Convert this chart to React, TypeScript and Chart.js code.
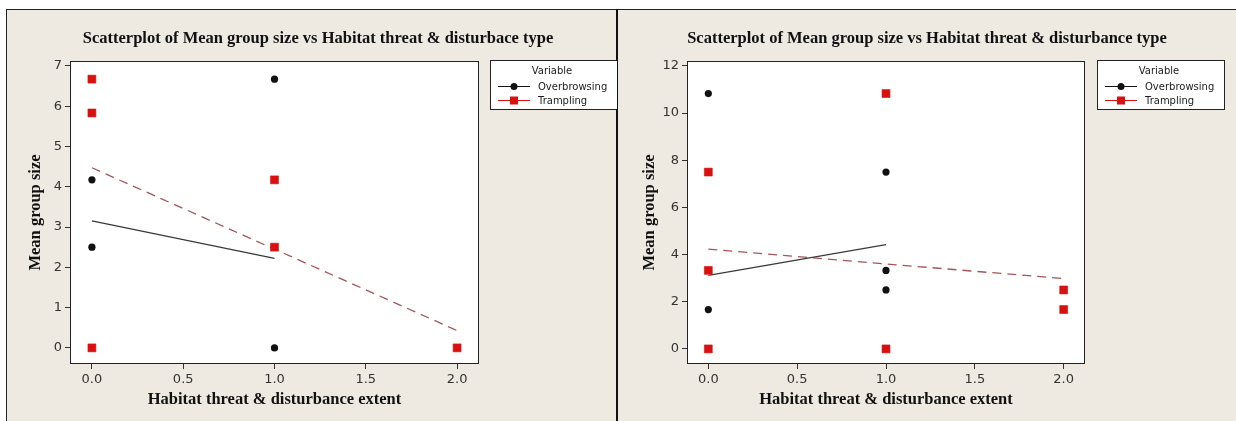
import React, { useEffect, useRef } from 'react';
import { Chart, registerables } from 'chart.js';

Chart.register(...registerables);

// ---- data ----
const xTicks = [0, 0.5, 1, 1.5, 2];
const leftYTicks = [0, 1, 2, 3, 4, 5, 6, 7];
const rightYTicks = [0, 2, 4, 6, 8, 10, 12];

const leftOverbrowsing = [
  { x: 0, y: 4.17 }, { x: 0, y: 2.5 }, { x: 1, y: 6.67 }, { x: 1, y: 0 },
];
const leftTrampling = [
  { x: 0, y: 6.67 }, { x: 0, y: 5.83 }, { x: 0, y: 0 },
  { x: 1, y: 4.17 }, { x: 1, y: 2.5 }, { x: 2, y: 0 },
];
const leftOverbrowsingFit = [{ x: 0, y: 3.15 }, { x: 1, y: 2.22 }];
const leftTramplingFit = [{ x: 0, y: 4.47 }, { x: 2, y: 0.43 }];

const rightOverbrowsing = [
  { x: 0, y: 10.83 }, { x: 0, y: 1.67 }, { x: 1, y: 7.5 }, { x: 1, y: 3.33 }, { x: 1, y: 2.5 },
];
const rightTrampling = [
  { x: 0, y: 7.5 }, { x: 0, y: 3.33 }, { x: 0, y: 0 },
  { x: 1, y: 10.83 }, { x: 1, y: 0 }, { x: 2, y: 2.5 }, { x: 2, y: 1.67 },
];
const rightOverbrowsingFit = [{ x: 0, y: 3.12 }, { x: 1, y: 4.42 }];
const rightTramplingFit = [{ x: 0, y: 4.23 }, { x: 2, y: 2.98 }];

const seriesNames = ['Overbrowsing', 'Trampling'];
const leftTitle = 'Scatterplot of Mean group size vs Habitat threat & disturbace type';
const rightTitle = 'Scatterplot of Mean group size vs Habitat threat & disturbance type';
const xTitle = 'Habitat threat & disturbance extent';
const yTitle = 'Mean group size';

// ---- styles ----
const RED = '#D8100F';
const BLACK = '#111111';
const FIT_BLACK = '#3a3a3a';
const FIT_RED = '#A4545C';
const BEIGE = '#EEEAE1';
const SERIF = '"Liberation Serif", "Times New Roman", serif';
const SANS = '"DejaVu Sans", sans-serif';

type PanelCfg = {
  left: number;
  width: number;
  plotRight: number;
  yMin: number;
  yMax: number;
  yTicks: number[];
  yTitlePad: number;
  title: string;
  titleX: number;
  legendX: number;
  legendW: number;
  over: { x: number; y: number }[];
  tramp: { x: number; y: number }[];
  overFit: { x: number; y: number }[];
  trampFit: { x: number; y: number }[];
};

function decorPlugin(cfg: PanelCfg) {
  return {
    id: 'decor',
    beforeDraw(chart: any) {
      const { ctx, chartArea: a } = chart;
      ctx.save();
      ctx.fillStyle = '#ffffff';
      ctx.fillRect(a.left, a.top, a.right - a.left, a.bottom - a.top);
      ctx.restore();
    },
    afterDraw(chart: any) {
      const { ctx, chartArea: a } = chart;
      ctx.save();
      // plot frame
      ctx.strokeStyle = '#222';
      ctx.lineWidth = 1;
      ctx.strokeRect(a.left + 0.5, a.top + 0.5, a.right - a.left - 1, a.bottom - a.top - 1);

      // title
      ctx.fillStyle = '#111';
      ctx.font = `bold 16.5px ${SERIF}`;
      ctx.textAlign = 'center';
      ctx.textBaseline = 'middle';
      ctx.fillText(cfg.title, cfg.titleX, 39);

      // legend
      const lx = cfg.legendX;
      const ly = 60;
      ctx.fillStyle = '#ffffff';
      ctx.fillRect(lx, ly, cfg.legendW, 49);
      ctx.strokeStyle = '#222';
      ctx.strokeRect(lx + 0.5, ly + 0.5, cfg.legendW - 1, 49);
      ctx.font = `10px ${SANS}`;
      ctx.fillStyle = '#222';
      ctx.textAlign = 'center';
      ctx.fillText('Variable', lx + 62, 71);
      ctx.textAlign = 'left';
      const rows = [
        { name: seriesNames[0], y: 86, color: BLACK, shape: 'circle' },
        { name: seriesNames[1], y: 100, color: RED, shape: 'rect' },
      ];
      rows.forEach((r) => {
        ctx.strokeStyle = r.color;
        ctx.lineWidth = 1;
        ctx.beginPath();
        ctx.moveTo(lx + 8, r.y + 0.5);
        ctx.lineTo(lx + 40, r.y + 0.5);
        ctx.stroke();
        ctx.fillStyle = r.color;
        if (r.shape === 'circle') {
          ctx.beginPath();
          ctx.arc(lx + 24, r.y + 0.5, 3.5, 0, Math.PI * 2);
          ctx.fill();
        } else {
          ctx.fillRect(lx + 20, r.y - 3.5, 8, 8);
        }
        ctx.fillStyle = '#222';
        ctx.fillText(r.name, lx + 48, r.y + 1);
      });
      ctx.restore();
    },
  };
}

function Panel({ cfg }: { cfg: PanelCfg }) {
  const ref = useRef<HTMLCanvasElement | null>(null);
  useEffect(() => {
    if (!ref.current) return;
    const tickFont = { family: SANS, size: 13 };
    const titleFont = { family: SERIF, size: 16.5, weight: 'bold' as const };
    const chart = new Chart(ref.current, {
      type: 'scatter',
      data: {
        datasets: [
          {
            label: seriesNames[0],
            data: cfg.over,
            pointStyle: 'circle',
            pointRadius: 3.6,
            pointBackgroundColor: BLACK,
            pointBorderColor: BLACK,
            pointBorderWidth: 0,
          },
          {
            label: seriesNames[1],
            data: cfg.tramp,
            pointStyle: 'rect',
            pointRadius: 5.6,
            pointBackgroundColor: RED,
            pointBorderColor: RED,
            pointBorderWidth: 0.6,
          },
          {
            label: seriesNames[0] + ' fit',
            data: cfg.overFit,
            showLine: true,
            pointRadius: 0,
            borderColor: FIT_BLACK,
            borderWidth: 1.3,
          },
          {
            label: seriesNames[1] + ' fit',
            data: cfg.trampFit,
            showLine: true,
            pointRadius: 0,
            borderColor: FIT_RED,
            borderWidth: 1.3,
            borderDash: [9, 6],
          },
        ] as any,
      },
      options: {
        animation: false,
        responsive: false,
        events: [],
        layout: { padding: { left: 0, top: 61, right: cfg.width - cfg.plotRight, bottom: 0 } },
        plugins: { legend: { display: false }, tooltip: { enabled: false }, title: { display: false } },
        scales: {
          x: {
            type: 'linear',
            min: -0.12,
            max: 2.12,
            afterBuildTicks: (s: any) => { s.ticks = xTicks.map((v) => ({ value: v })); },
            afterFit: (s: any) => { s.height = 57; },
            ticks: {
              callback: (v: any) => Number(v).toFixed(1),
              font: tickFont,
              color: '#333',
              padding: 3,
              maxRotation: 0,
              autoSkip: false,
            },
            grid: { drawOnChartArea: false, drawTicks: true, tickLength: 5, color: '#333' },
            border: { display: false },
            title: { display: true, text: xTitle, font: titleFont, color: '#111', padding: { top: 0, bottom: 11 } },
          },
          y: {
            type: 'linear',
            min: cfg.yMin,
            max: cfg.yMax,
            afterBuildTicks: (s: any) => { s.ticks = cfg.yTicks.map((v) => ({ value: v })); },
            afterFit: (s: any) => { s.width = 70; },
            ticks: { font: tickFont, color: '#333', padding: 3, autoSkip: false },
            grid: { drawOnChartArea: false, drawTicks: true, tickLength: 5, color: '#333' },
            border: { display: false },
            title: { display: true, text: yTitle, font: titleFont, color: '#111', padding: { top: cfg.yTitlePad, bottom: 0 } },
          },
        },
      } as any,
      plugins: [decorPlugin(cfg)],
    });
    return () => chart.destroy();
  }, []);
  return (
    <canvas
      ref={ref}
      width={cfg.width}
      height={421}
      style={{ position: 'absolute', left: cfg.left, top: 0, width: cfg.width, height: 421 }}
    />
  );
}

const leftCfg: PanelCfg = {
  left: 0,
  width: 617,
  plotRight: 479,
  yMin: -0.4,
  yMax: 7.12,
  yTicks: leftYTicks,
  yTitlePad: 26,
  title: leftTitle,
  titleX: 318,
  legendX: 490,
  legendW: 140,
  over: leftOverbrowsing,
  tramp: leftTrampling,
  overFit: leftOverbrowsingFit,
  trampFit: leftTramplingFit,
};

const rightCfg: PanelCfg = {
  left: 617,
  width: 619,
  plotRight: 468,
  yMin: -0.64,
  yMax: 12.21,
  yTicks: rightYTicks,
  yTitlePad: 23,
  title: rightTitle,
  titleX: 310,
  legendX: 480,
  legendW: 128,
  over: rightOverbrowsing,
  tramp: rightTrampling,
  overFit: rightOverbrowsingFit,
  trampFit: rightTramplingFit,
};

export default function App() {
  return (
    <div style={{ position: 'fixed', left: 0, top: 0, width: 1236, height: 421, background: '#ffffff', overflow: 'hidden' }}>
      <div style={{ position: 'absolute', left: 6, top: 9, width: 611, height: 420, background: BEIGE, borderLeft: '1px solid #222', borderTop: '1px solid #222' }} />
      <div style={{ position: 'absolute', left: 618, top: 9, width: 620, height: 420, background: BEIGE, borderTop: '1px solid #222' }} />
      <div style={{ position: 'absolute', left: 616, top: 9, width: 2, height: 420, background: '#111' }} />
      <Panel cfg={leftCfg} />
      <Panel cfg={rightCfg} />
    </div>
  );
}
